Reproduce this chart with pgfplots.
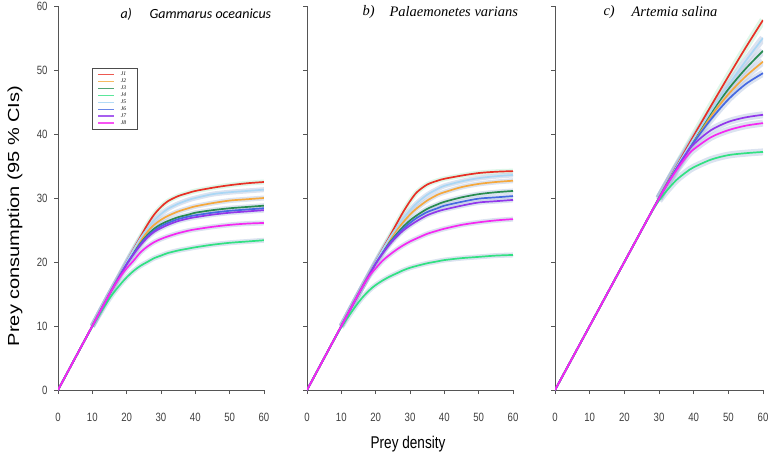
\documentclass[border=0pt]{standalone}
\usepackage{fontspec}
\setmainfont{Liberation Sans}
\newfontfamily\narrowsans[FakeStretch=0.8]{Liberation Sans}
\newfontfamily\titlesans{Carlito}
\newfontfamily\titleserif{Liberation Serif}
\usepackage{pgfplots}
\usepackage{pgfplotstable}
\pgfplotsset{compat=1.18}

\definecolor{cJ1}{RGB}{232,48,38}
\definecolor{cJ2}{RGB}{245,168,60}
\definecolor{cJ3}{RGB}{40,140,80}
\definecolor{cJ4}{RGB}{50,225,130}
\definecolor{cJ5}{RGB}{170,215,245}
\definecolor{cJ6}{RGB}{70,105,225}
\definecolor{cJ7}{RGB}{145,55,235}
\definecolor{cJ8}{RGB}{245,40,240}
\definecolor{band}{RGB}{176,192,222}
\definecolor{bandg}{RGB}{195,240,215}
\definecolor{axisgray}{RGB}{85,85,85}

% fitted consumption curves, one column per treatment
\pgfplotstableread{
x  J1   J2   J3   J4   J5   J6   J7   J8
0  0    0    0    0    0    0    0    0
5  5    5    5    5    5    5    5    5
10 10   10   10   9.9  10   10   10   10
15 15   15   15   14.3 15   15   15   15
18 18   17.9 17.9 16.4 18   17.9 17.8 17.6
20 20   19.9 19.7 17.6 20   19.7 19.6 19.0
22 22   21.7 21.4 18.6 21.9 21.3 21.2 20.2
24 23.9 23.3 22.9 19.4 23.7 22.8 22.6 21.5
26 25.8 24.7 24.2 20.0 25.2 24.0 23.8 22.4
28 27.4 25.8 25.2 20.6 26.5 24.9 24.7 23.1
30 28.6 26.6 25.9 21.0 27.5 25.6 25.3 23.6
32 29.5 27.2 26.4 21.4 28.3 26.1 25.8 24.0
35 30.3 27.9 27.0 21.8 29.1 26.7 26.4 24.5
38 30.8 28.4 27.4 22.1 29.7 27.1 26.8 24.9
40 31.1 28.7 27.7 22.3 30.0 27.3 27.0 25.1
45 31.6 29.2 28.1 22.7 30.6 27.7 27.4 25.5
50 32.0 29.6 28.4 23.0 30.9 28.0 27.7 25.8
55 32.3 29.8 28.6 23.2 31.1 28.2 27.9 26.0
60 32.5 30.0 28.8 23.4 31.3 28.4 28.1 26.1
}\tabA

\pgfplotstableread{
x  J1   J2   J3   J4   J5   J6   J7   J8
0  0    0    0    0    0    0    0    0
5  5    5    5    5    5    5    5    5
10 10   10   10   9.8  10   10   10   10
15 15   15   15   13.7 15   15   15   15
18 18   18   17.9 15.5 18   17.9 17.9 17.7
20 20   19.9 19.8 16.4 20   19.8 19.7 19.0
22 22   21.7 21.5 17.1 21.9 21.4 21.3 20.2
24 23.9 23.4 23.0 17.7 23.7 22.9 22.7 21.1
26 25.9 24.9 24.3 18.2 25.3 24.1 23.9 21.9
28 27.8 26.2 25.5 18.7 26.8 25.2 24.9 22.6
30 29.5 27.4 26.5 19.1 28.1 26.1 25.7 23.2
32 30.9 28.4 27.3 19.4 29.2 26.9 26.4 23.7
35 32.1 29.6 28.3 19.8 30.5 27.8 27.3 24.4
38 32.7 30.5 29.0 20.1 31.4 28.4 27.9 24.9
40 33.0 30.9 29.4 20.3 31.9 28.8 28.2 25.2
45 33.5 31.7 30.1 20.6 32.6 29.4 28.8 25.8
50 33.9 32.2 30.6 20.8 33.1 29.9 29.3 26.2
55 34.1 32.5 30.9 21.0 33.4 30.1 29.5 26.5
60 34.2 32.7 31.1 21.1 33.6 30.3 29.7 26.7
}\tabB

\pgfplotstableread{
x  J1   J2   J3   J4   J5   J6   J7   J8
0  0    0    0    0    0    0    0    0
10 10   10   10   10   10   10   10   10
20 20   20   20   20   20   20   20   20
25 25   25   25   25   25   25   25   25
28 28   28   28   27.9 28   28   28   28
30 30   30   30   29.6 30   30   29.9 29.9
32 32   31.9 31.9 31.0 31.9 31.9 31.8 31.8
35 34.9 34.7 34.8 32.8 34.8 34.6 34.5 34.3
38 37.8 37.3 37.4 34.1 37.5 37.1 37.0 36.5
40 39.7 38.9 39.2 34.8 39.3 38.7 38.4 37.6
45 44.4 42.8 43.3 36.0 43.6 42.3 40.6 39.5
50 49.0 46.2 47.0 36.7 47.6 45.4 41.9 40.6
55 53.5 49.0 50.2 37.0 51.4 47.8 42.6 41.3
60 57.8 51.3 53.0 37.2 55.0 49.5 43.0 41.7
}\tabC

\pgfplotsset{
  panel/.style={
    scale only axis, width=206pt, height=384pt,
    xmin=0, xmax=60, ymin=0, ymax=60,
    axis x line*=bottom, axis y line*=left,
    axis line style={-, axisgray, line width=0.9pt},
    xtick={0,10,...,60}, ytick={0,10,...,60},
    tick align=outside, major tick length=4pt,
    tick style={axisgray, line width=0.9pt},
    tick label style={font=\narrowsans\fontsize{12}{12}\selectfont, text=black!75},
    /pgf/number format/assume math mode=true,
    xticklabel style={yshift=-16pt},
    yticklabel style={xshift=-3pt},
  },
  ci/.style={forget plot, smooth, tension=0.5, line width=#1, band, opacity=0.45},
  fit/.style={forget plot, smooth, tension=0.5, line width=1.7pt, color=#1},
  legend image code/.code={\draw[line width=1.6pt, #1] (0pt,0pt) -- (16pt,0pt);},
}

% confidence bands first, then the fitted curves on top
\newcommand{\curves}[3]{%
  \addplot[ci=#2, bandg, opacity=0.55, restrict x to domain=#3:60] table[x=x,y=J1]{#1};
  \addplot[ci=#2, restrict x to domain=#3:60] table[x=x,y=J2]{#1};
  \addplot[ci=#2, restrict x to domain=#3:60] table[x=x,y=J3]{#1};
  \addplot[ci=#2, restrict x to domain=#3:60] table[x=x,y=J4]{#1};
  \addplot[ci=#2, restrict x to domain=#3:60] table[x=x,y=J5]{#1};
  \addplot[ci=#2, restrict x to domain=#3:60] table[x=x,y=J6]{#1};
  \addplot[ci=#2, restrict x to domain=#3:60] table[x=x,y=J7]{#1};
  \addplot[ci=#2, restrict x to domain=#3:60] table[x=x,y=J8]{#1};
  \addplot[fit=cJ1] table[x=x,y=J1]{#1};
  \addplot[fit=cJ2] table[x=x,y=J2]{#1};
  \addplot[fit=cJ3] table[x=x,y=J3]{#1};
  \addplot[fit=cJ4] table[x=x,y=J4]{#1};
  \addplot[fit=cJ5] table[x=x,y=J5]{#1};
  \addplot[fit=cJ6] table[x=x,y=J6]{#1};
  \addplot[fit=cJ7] table[x=x,y=J7]{#1};
  \addplot[fit=cJ8] table[x=x,y=J8]{#1};
}

\begin{document}
\begin{tikzpicture}[x=1pt,y=1pt]
\useasboundingbox (0,0) rectangle (770,461);

\begin{axis}[panel, at={(58pt,71pt)}, anchor=south west,
  legend style={at={(0.165,0.839)}, anchor=north west,
    draw=black!70, line width=0.8pt,
    font=\titleserif\itshape\fontsize{5.5}{5.5}\selectfont,
    row sep=0pt, inner xsep=5pt, inner ysep=3pt, cells={anchor=west},
    nodes={inner xsep=6pt, inner ysep=0.9pt}}]
\addlegendimage{color=cJ1!80}\addlegendentry{J1}
\addlegendimage{color=cJ2!80}\addlegendentry{J2}
\addlegendimage{color=cJ3!80}\addlegendentry{J3}
\addlegendimage{color=cJ4!80}\addlegendentry{J4}
\addlegendimage{color=cJ5!90}\addlegendentry{J5}
\addlegendimage{color=cJ6!80}\addlegendentry{J6}
\addlegendimage{color=cJ7!80}\addlegendentry{J7}
\addlegendimage{color=cJ8!80}\addlegendentry{J8}
\curves{\tabA}{5pt}{10}
\end{axis}

\begin{axis}[panel, at={(307pt,71pt)}, anchor=south west, yticklabels={}]
\curves{\tabB}{5pt}{10}
\end{axis}

\begin{axis}[panel, width=208pt, at={(555pt,71pt)}, anchor=south west, yticklabels={}]
\curves{\tabC}{7pt}{30}
\end{axis}

% panel titles
\node[anchor=west] at (117,447) {\titlesans\itshape\fontsize{14}{14}\selectfont a)};
\node[anchor=west] at (146,447) {\titlesans\itshape\fontsize{14}{14}\selectfont Gammarus oceanicus};
\node[anchor=west] at (359,449) {\titleserif\itshape\fontsize{14.5}{14.5}\selectfont b)};
\node[anchor=west] at (386,449) {\titleserif\itshape\fontsize{14.5}{14.5}\selectfont Palaemonetes varians};
\node[anchor=west] at (600,449) {\titleserif\itshape\fontsize{14.5}{14.5}\selectfont c)};
\node[anchor=west] at (628,449) {\titleserif\itshape\fontsize{14.5}{14.5}\selectfont Artemia salina};

% axis titles
\node at (408,17) {\narrowsans\fontsize{17}{17}\selectfont Prey density};
\node[rotate=90] at (15,245) {\scalebox{1}[0.8]{\fontsize{20}{20}\selectfont Prey consumption (95 \% CIs)}};
\end{tikzpicture}
\end{document}
